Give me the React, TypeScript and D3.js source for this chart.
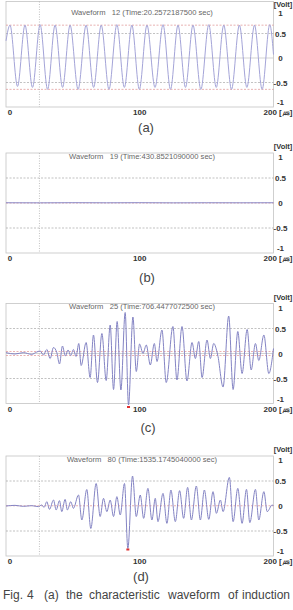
import React from "react";
import * as d3 from "d3";

// ---------- data ----------
const xTicks = [0, 100, 200];
const yTicks = [1, 0.5, 0, -0.5, -1];
const triggerTime = 25;

const titles = [
  "Waveform   12 (Time:20.2572187500 sec)",
  "Waveform   19 (Time:430.8521090000 sec)",
  "Waveform   25 (Time:706.4477072500 sec)",
  "Waveform   80 (Time:1535.1745040000 sec)",
];
const captions = ["(a)", "(b)", "(c)", "(d)"];

// (a) sinusoid: extremes
const aTimes = [0, 3, 8.6, 14.2, 19.8, 25.5, 31.1, 36.7, 42.3, 47.9, 53.9, 59.9, 65.5, 71.2, 77, 82.9, 88.5, 94.1, 99.7, 105.4, 111.4, 117.4, 123, 128.6, 134.2, 139.8, 145.7, 151.6, 157.2, 162.8, 168.6, 174.5, 180.1, 185.8, 191.5, 197.2, 200];
const aValues = [0.35, 0.67, -0.58, 0.67, -0.6, 0.68, -0.64, 0.67, -0.6, 0.67, -0.64, 0.67, -0.6, 0.67, -0.64, 0.68, -0.6, 0.67, -0.64, 0.67, -0.6, 0.68, -0.64, 0.67, -0.6, 0.67, -0.64, 0.68, -0.6, 0.67, -0.64, 0.67, -0.6, 0.67, -0.64, 0.68, 0.07];
const aThresholds = [0.67, -0.64];

// (b) flat
const bTimes = [0, 25, 50, 75, 100, 125, 150, 175, 200];
const bValues = [0.005, 0.003, 0.006, 0.004, 0.006, 0.003, 0.005, 0.004, 0.005];
const bThresholds = [0];

// (c)
const cTimes = [0, 6.7, 13, 19.2, 23, 25.5, 28, 30.5, 33, 35.5, 38, 40, 42.2, 44.4, 46.4, 48.4, 50.4, 52.4, 54.4, 56.2, 59.9, 62.9, 65.4, 68.4, 71.7, 74.9, 77.9, 80.4, 83.1, 85.9, 89.1, 91.6, 94.9, 97.4, 99.9, 102.4, 104.9, 107.9, 110.9, 112.9, 116.6, 119.8, 124.8, 127.8, 131.6, 135.3, 139.1, 141.6, 144.1, 146.6, 150.3, 152.8, 155.3, 158.3, 162.3, 166.5, 169.8, 173.3, 176.5, 180.3, 183.3, 186.5, 189, 192.8, 196.5, 200];
const cValues = [0.017, -0.01, 0.017, -0.017, 0.03, 0.05, -0.03, 0.08, -0.1, 0.12, 0.017, -0.21, 0.15, -0.05, 0.07, -0.04, 0.08, -0.06, 0.2, -0.24, 0.22, -0.48, 0.37, -0.58, 0.4, -0.54, 0.57, -0.72, 0.64, -0.73, 0.82, -1.03, 0.73, -0.36, 0.19, 0.0, 0.17, -0.23, 0.2, -0.16, 0.47, -0.58, 0.54, -0.53, 0.54, -0.55, 0.22, -0.1, 0.24, -0.48, 0.27, -0.1, 0.2, -0.03, -0.67, 0.75, -0.72, 0.44, -0.4, 0.48, -0.33, 0.2, -0.14, 0.37, -0.4, 0.1];
const cThresholds = [0.04, -0.04];
const cMarker = { t: 91.6, v: -1.07 };

// (d)
const dTimes = [0, 6.7, 13, 19.2, 24.2, 26.7, 28.5, 30.5, 32.5, 35.5, 37.5, 40, 41.7, 44.2, 45.9, 48.4, 50.4, 54.2, 56.7, 60.4, 63.4, 67.4, 70.4, 72.9, 75.4, 77.9, 80.4, 82.9, 85.4, 88.6, 91.1, 94.6, 97.4, 100.4, 102.9, 106.1, 109.1, 111.6, 113.6, 117.4, 120.3, 123.3, 126.6, 129.8, 132.8, 135.8, 138.6, 142.3, 145.3, 148.3, 151.6, 154.8, 157.3, 160.3, 162.3, 167, 169.8, 173.3, 176.5, 179.8, 182.3, 186.5, 189, 192.8, 195.3, 199, 200];
const dValues = [0, 0.013, -0.007, 0.007, -0.013, 0.02, -0.027, 0.087, -0.067, 0.12, -0.08, 0.107, -0.113, 0.133, -0.08, 0.087, -0.047, 0.22, -0.28, 0.33, -0.45, 0.45, -0.21, 0.153, -0.113, 0.12, -0.21, 0.187, -0.18, 0.45, -0.85, 0.6, -0.21, 0.22, -0.247, 0.353, -0.28, 0.153, -0.313, 0.253, -0.347, 0.32, -0.313, 0.307, -0.247, 0.373, -0.28, 0.4, -0.28, 0.32, -0.267, 0.287, -0.147, 0.12, -0.113, 0.573, -0.313, 0.353, -0.347, 0.333, -0.333, 0.333, -0.28, 0.287, -0.113, 0.02, 0];
const dThresholds = [0.005];
const dMarker = { t: 91.1, v: -0.87 };

const figWords = ["Fig.", "4", "(a)", "the", "characteristic", "waveform", "of", "induction"];

// ---------- layout ----------
const W = 293;
const H = 610;
const FONT = "'Liberation Sans', Arial, sans-serif";

const x = d3.scaleLinear().domain([0, 200]).range([6, 273.5]);

type PanelCfg = {
  boxTop: number;
  yTopPx: number;
  yBotPx: number;
  voltY: number;
  captionX: number;
  captionY: number;
  times: number[];
  values: number[];
  thresholds: number[];
  zeroLine: boolean;
  marker?: { t: number; v: number };
  lineColor: string;
};

const panels: PanelCfg[] = [
  { boxTop: 1.5, yTopPx: 9, yBotPx: 107, voltY: 6.5, captionX: 146, captionY: 127, times: aTimes, values: aValues, thresholds: aThresholds, zeroLine: true, lineColor: "#a4a4d8" },
  { boxTop: 153, yTopPx: 153, yBotPx: 253, voltY: 149, captionX: 147, captionY: 277, times: bTimes, values: bValues, thresholds: bThresholds, zeroLine: false, lineColor: "#8a8ac8" },
  { boxTop: 303.5, yTopPx: 303.5, yBotPx: 403.5, voltY: 299.5, captionX: 148, captionY: 427, times: cTimes, values: cValues, thresholds: cThresholds, zeroLine: true, marker: cMarker, lineColor: "#8484c4" },
  { boxTop: 456, yTopPx: 456, yBotPx: 556, voltY: 452, captionX: 141, captionY: 576, times: dTimes, values: dValues, thresholds: dThresholds, zeroLine: false, marker: dMarker, lineColor: "#8484c4" },
];

const figWordX = [3, 27, 44, 66, 89, 168, 228, 242];

function Panel({ cfg, title, caption }: { cfg: PanelCfg; title: string; caption: string }) {
  const y = d3.scaleLinear().domain([-1, 1]).range([cfg.yBotPx, cfg.yTopPx]);
  const pts = cfg.times.map((t, i) => [t, cfg.values[i]] as [number, number]);
  const line = d3
    .line<[number, number]>()
    .x((d) => x(d[0]))
    .y((d) => y(d[1]))
    .curve(d3.curveMonotoneX);
  const x0 = x(0);
  const x1 = x(200);
  const bottom = cfg.yBotPx;
  return (
    <g>
      <rect x={x0} y={cfg.boxTop} width={x1 - x0} height={bottom - cfg.boxTop} fill="#fff" stroke="#c4c4c4" strokeWidth={0.8} />
      {[0.5, -0.5].map((v) => (
        <line key={v} x1={x0} x2={x1} y1={y(v)} y2={y(v)} stroke="#a8a8a8" strokeWidth={0.7} strokeDasharray="2,1.5" />
      ))}
      {cfg.zeroLine && <line x1={x0} x2={x1} y1={y(0)} y2={y(0)} stroke="#c8c8c8" strokeWidth={0.8} />}
      {cfg.thresholds.map((v, i) => (
        <line key={"t" + i} x1={x0} x2={x1} y1={y(v)} y2={y(v)} stroke="#e09090" strokeWidth={0.7} strokeDasharray="2,1.5" />
      ))}
      <line x1={x(triggerTime)} x2={x(triggerTime)} y1={cfg.boxTop} y2={bottom} stroke="#a8a8a8" strokeWidth={0.7} strokeDasharray="1,1.5" />
      <path d={line(pts) ?? ""} fill="none" stroke={cfg.lineColor} strokeWidth={1} />
      {cfg.marker && (
        <rect x={x(cfg.marker.t) - 1.5} y={y(cfg.marker.v) - 1} width={3} height={2} fill="#e03030" />
      )}
      <text x={142} y={cfg.yTopPx + 5.5} fontSize={7.6} fill="#666" textAnchor="middle" fontFamily={FONT} style={{ whiteSpace: "pre" }}>
        {title}
      </text>
      <text x={283} y={cfg.voltY} fontSize={7.5} fontWeight="bold" fill="#333" textAnchor="middle" fontFamily={FONT}>
        [Volt]
      </text>
      {yTicks.map((v) => {
        const yy = v === 1 ? y(v) + 7 : v === -1 ? y(v) - 2 : y(v) + 3;
        return (
          <text key={v} x={280.5} y={yy} fontSize={8} fontWeight="bold" fill="#333" textAnchor="middle" fontFamily={FONT}>
            {String(v)}
          </text>
        );
      })}
      {xTicks.map((t) => {
        const label = t === 200 ? "200 [㎲]" : String(t);
        const tx = t === 0 ? x(t) + 4 : t === 200 ? x(t) - 10 : x(t);
        const anchor = t === 200 ? "start" : "middle";
        return (
          <text key={t} x={tx} y={bottom + 8} fontSize={8} fontWeight="bold" fill="#333" textAnchor={anchor} fontFamily={FONT}>
            {label}
          </text>
        );
      })}
      <text x={cfg.captionX} y={cfg.captionY + 4.5} fontSize={13} fill="#444" textAnchor="middle" fontFamily={FONT}>
        {caption}
      </text>
    </g>
  );
}

export default function App() {
  return (
    <svg width={W} height={H} style={{ position: "absolute", left: 0, top: 0, background: "#fff" }}>
      <rect x={0} y={0} width={W} height={H} fill="#fff" />
      {panels.map((p, i) => (
        <Panel key={i} cfg={p} title={titles[i]} caption={captions[i]} />
      ))}
      {figWords.map((w, i) => (
        <text key={i} x={figWordX[i]} y={598.5} fontSize={12} fill="#444" fontFamily={FONT}>
          {w}
        </text>
      ))}
    </svg>
  );
}
